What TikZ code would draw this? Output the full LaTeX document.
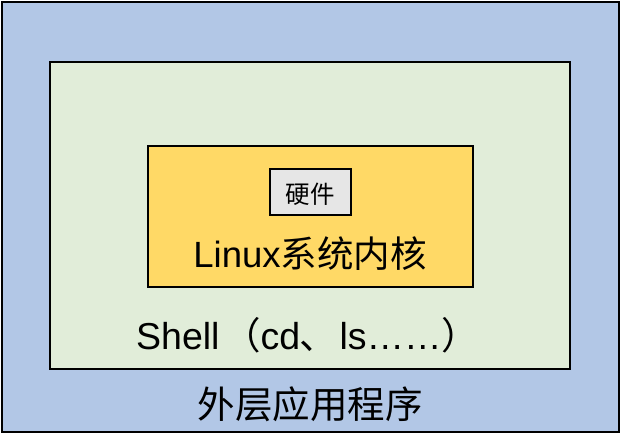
\documentclass[tikz,border=0pt]{standalone}
\usepackage{fontspec}
\setmainfont{Liberation Sans}
\newfontfamily\cjk{Noto Sans CJK SC}
\definecolor{outerblue}{HTML}{B2C7E6}
\definecolor{shellgreen}{HTML}{E1EDD9}
\definecolor{kernelyellow}{HTML}{FFD966}
\definecolor{hwgray}{HTML}{E6E6E6}
\newcommand{\placeat}[2]{\rlap{\hspace*{#1pt}#2}}
\tikzset{
  layer/.style={draw=black, line width=2pt, inner sep=0pt, outer sep=0pt},
  lbl/.style={inner sep=0pt, outer sep=0pt, anchor=base},
}
\begin{document}
\begin{tikzpicture}[x=1pt,y=-1pt]
\useasboundingbox (0,0) rectangle (621,434);
\node[layer, fill=outerblue, minimum width=617pt, minimum height=430pt] (outer) at (310,216.5) {};
\node[layer, fill=shellgreen, minimum width=520pt, minimum height=307pt] (shell) at (310,215.5) {};
\node[layer, fill=kernelyellow, minimum width=325.5pt, minimum height=141.5pt] (kernel) at (310.25,216.25) {};
\node[layer, fill=hwgray, minimum width=81pt, minimum height=46pt] (hw) at (310,192) {};
\node[lbl] (hwtext) at (310,203) {\fontsize{24.5}{28}\selectfont\cjk 硬件};
\node[lbl] (kerneltext) at (310,267) {\fontsize{36.5}{40}\selectfont Linux{\cjk 系统内核}};
\node[lbl, anchor=base west] (shelltext) at (136.2,349) {\fontsize{37.5}{40}\selectfont
  \placeat{0}{Shell}%
  \placeat{106.3}{\makebox[0pt]{\cjk （}}%
  \placeat{124.3}{cd}%
  \placeat{162.8}{\cjk 、}%
  \placeat{203.3}{ls……}%
  \placeat{323.8}{\makebox[0pt]{\cjk ）}}%
  \hspace*{334pt}};
\node[lbl] (apptext) at (310,418) {\fontsize{37.5}{40}\selectfont\cjk 外层应用程序};
\end{tikzpicture}
\end{document}
